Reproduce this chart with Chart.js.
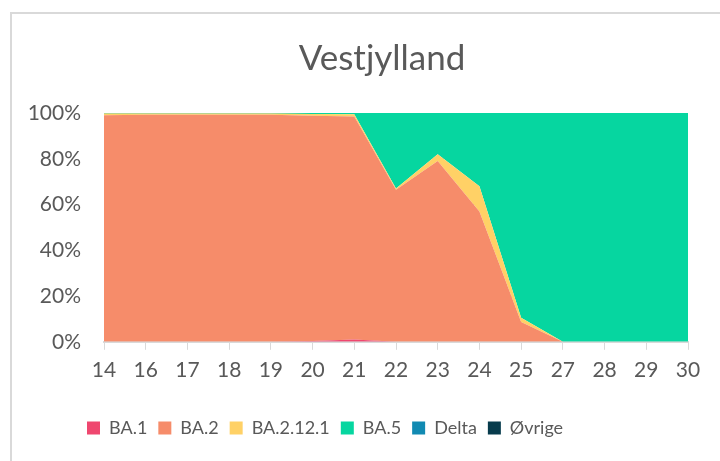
<!DOCTYPE html>
<html>
<head>
<meta charset="utf-8">
<script src="https://cdn.jsdelivr.net/npm/chart.js@4/dist/chart.umd.min.js"></script>
<style>
  html, body { margin: 0; padding: 0; background: #fff; }
  #wrap { position: relative; width: 720px; height: 461px; overflow: hidden; }
  #frame { position: absolute; left: 10px; top: 12px; width: 760px; height: 500px; border: 2px solid #d9d9d9; box-sizing: border-box; }
  #c { position: absolute; left: 0; top: 0; }
</style>
</head>
<body>
<div id="wrap">
  <div id="frame"></div>
  <canvas id="c" width="720" height="461"></canvas>
</div>
<script>
var weeks = ['14', '16', '17', '18', '19', '20', '21', '22', '23', '24', '25', '27', '28', '29', '30']
var ba1      = [0, 0, 0, 0, 0, 0.3, 1, 0, 0, 0, 0, 0, 0, 0, 0]
var ba2      = [99, 99.2, 99.2, 99.2, 99.2, 98.5, 97.5, 66.5, 79, 57, 8.7, 0, 0, 0, 0]
var ba2121   = [0.8, 0.6, 0.6, 0.6, 0.6, 0.8, 1, 0.5, 3, 11, 1.8, 0, 0, 0, 0]
var ba5      = [0.2, 0.2, 0.2, 0.2, 0.2, 0.4, 0.5, 33, 18, 32, 89.5, 100, 100, 100, 100]
var delta    = [0, 0, 0, 0, 0, 0, 0, 0, 0, 0, 0, 0, 0, 0, 0]
var ovrige   = [0, 0, 0, 0, 0, 0, 0, 0, 0, 0, 0, 0, 0, 0, 0]

var names  = ['BA.1', 'BA.2', 'BA.2.12.1', 'BA.5', 'Delta', 'Øvrige']
var series = [ba1, ba2, ba2121, ba5, delta, ovrige]
var colors = ['#EF476F', '#F68C6A', '#FFD166', '#06D6A0', '#118AB2', '#073B4C']

var datasets = series.map(function (s, i) {
  return {
    label: names[i],
    data: s,
    backgroundColor: colors[i],
    borderColor: colors[i],
    borderWidth: 0,
    pointRadius: 0,
    tension: 0,
    fill: i === 0 ? 'origin' : '-1'
  }
})

Chart.defaults.font.family = 'Lato, "Open Sans", sans-serif'
Chart.defaults.color = '#595959'

// y labels end at x=81 while the plot starts at 104; mirror + far align lets them sit in the padding
var yLabelRight = 81
var plotLeft = 104

new Chart(document.getElementById('c').getContext('2d'), {
  type: 'line',
  data: { labels: weeks, datasets: datasets },
  options: {
    responsive: false,
    animation: false,
    layout: { padding: { left: 76, right: 32, top: 0, bottom: 14 } },
    plugins: {
      title: {
        display: true,
        text: 'Vestjylland',
        font: { size: 35, weight: 'normal' },
        color: '#595959',
        padding: { top: 38, bottom: 33 }
      },
      legend: {
        position: 'bottom',
        align: 'start',
        labels: { boxWidth: 13, boxHeight: 13, font: { size: 18 }, padding: 11 }
      },
      tooltip: { enabled: false }
    },
    scales: {
      x: {
        offset: false,
        grid: { display: true, drawOnChartArea: false, color: '#d9d9d9', tickLength: 8 },
        border: { color: '#d9d9d9', width: 2 },
        ticks: { font: { size: 21 }, padding: 8, maxRotation: 0, autoSkip: false },
        afterFit: function (scale) { scale.height += 17 }
      },
      y: {
        stacked: true,
        min: 0,
        max: 100,
        grid: { color: '#d9d9d9', tickLength: 0 },
        border: { display: false },
        ticks: {
          stepSize: 20,
          font: { size: 21 },
          mirror: true,
          crossAlign: 'far',
          padding: 0,
          callback: function (v) { return v + '%' }
        },
        afterFit: function (scale) {
          scale.width = 28
          var ctx = scale.ctx
          ctx.save()
          ctx.font = '21px Lato'
          var widest = ctx.measureText('100%').width
          ctx.restore()
          scale.options.ticks.padding = yLabelRight - plotLeft - widest
        }
      }
    }
  }
})
</script>
</body>
</html>
